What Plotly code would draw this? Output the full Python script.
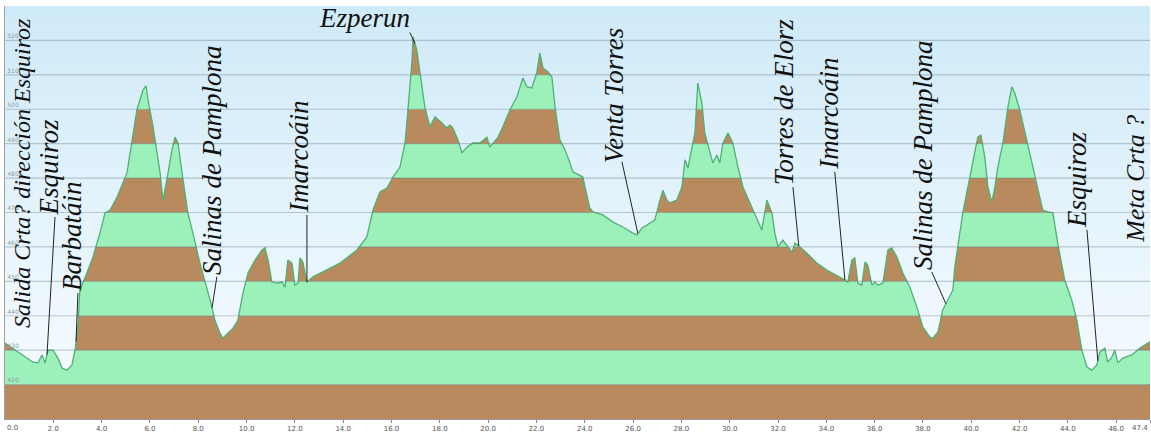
import numpy as np
import plotly.graph_objects as go

# ---------------- data ----------------
dist_km = [0.00, 0.62, 1.16, 1.37, 1.53, 1.66, 1.78, 1.99, 2.19, 2.36, 2.57, 2.77, 2.90, 3.02, 3.10,
           3.39, 3.64, 3.93, 4.14, 4.35, 4.64, 5.05, 5.30, 5.46, 5.71, 5.84, 5.92, 6.13, 6.42, 6.54,
           6.75, 6.91, 7.04, 7.16, 7.33, 7.57, 7.78, 8.07, 8.49, 8.69, 8.90, 9.02, 9.23, 9.44, 9.64,
           9.85, 10.06, 10.35, 10.64, 10.76, 10.89, 11.05, 11.26, 11.47, 11.59, 11.71, 11.88, 12.00,
           12.13, 12.21, 12.33, 12.50, 12.75, 13.16, 13.87, 14.57, 14.98, 15.23, 15.52, 15.81, 16.06,
           16.35, 16.56, 16.68, 16.85, 16.89, 17.05, 17.18, 17.38, 17.59, 17.80, 18.09, 18.29, 18.42,
           18.54, 18.75, 18.92, 19.12, 19.37, 19.66, 19.95, 20.07, 20.20, 20.41, 20.61, 20.90, 21.19,
           21.44, 21.61, 21.81, 22.02, 22.14, 22.27, 22.48, 22.64, 22.77, 22.97, 23.18, 23.39, 23.51,
           23.92, 24.21, 24.34, 24.75, 25.17, 25.58, 25.99, 26.16, 26.37, 26.70, 26.90, 27.11, 27.24,
           27.40, 27.52, 27.81, 28.02, 28.15, 28.27, 28.44, 28.56, 28.68, 28.85, 28.97, 29.18, 29.30,
           29.47, 29.59, 29.72, 29.93, 30.13, 30.34, 30.55, 30.92, 31.13, 31.33, 31.54, 31.75, 31.87,
           32.00, 32.20, 32.37, 32.58, 32.70, 32.91, 33.20, 33.61, 34.02, 34.44, 34.77, 34.89, 35.06,
           35.18, 35.31, 35.47, 35.60, 35.72, 35.89, 36.01, 36.13, 36.34, 36.55, 36.71, 36.92, 37.17,
           37.46, 37.75, 38.00, 38.29, 38.41, 38.62, 38.82, 39.03, 39.24, 39.32, 39.45, 39.65, 39.86,
           40.07, 40.27, 40.40, 40.56, 40.69, 40.85, 40.98, 41.10, 41.31, 41.52, 41.68, 41.80, 42.01,
           42.30, 42.63, 42.96, 43.17, 43.38, 43.58, 43.87, 44.16, 44.37, 44.58, 44.79, 44.99, 45.20,
           45.32, 45.53, 45.65, 45.82, 45.94, 46.07, 46.27, 46.65, 46.98, 47.40]
elev_m = [432.1, 429.2, 426.5, 426.3, 428.6, 426.3, 430.0, 430.0, 427.7, 424.8, 424.2, 425.7, 430.0, 437.3, 447.5,
          452.4, 457.1, 464.0, 469.9, 470.7, 474.5, 481.5, 493.1, 499.8, 505.6, 506.8, 502.7, 494.9, 481.5, 473.6,
          481.5, 488.2, 491.9, 490.2, 481.5, 469.9, 464.0, 455.3, 444.6, 438.7, 435.0, 433.5, 435.0, 436.4, 438.7,
          446.6, 452.4, 456.2, 459.1, 459.7, 456.2, 449.8, 449.5, 449.8, 448.3, 456.2, 455.3, 448.9,
          449.5, 456.8, 455.6, 449.8, 451.3, 452.7, 455.3, 459.1, 462.9, 470.7, 476.0, 477.1, 480.3,
          483.2, 490.2, 499.8, 514.3, 521.0, 517.2, 510.6, 500.7, 494.9, 497.8, 496.0, 494.6, 495.4,
          494.6, 491.1, 487.3, 489.0, 490.2, 490.2, 491.9, 489.0, 490.2, 491.9, 494.9, 499.8, 503.6,
          509.1, 506.5, 506.2, 510.8, 516.4, 512.0, 510.8, 509.4, 500.7, 491.1, 488.2, 484.4, 481.8,
          480.3, 471.3, 470.2, 469.3, 467.2, 465.8, 464.0, 463.5, 465.5, 467.0, 467.8, 473.6, 476.5,
          473.6, 472.8, 473.6, 477.4, 485.3, 482.9, 489.0, 493.1, 507.6, 501.8, 493.1, 487.3, 484.4,
          486.7, 484.4, 490.2, 493.1, 490.2, 483.2, 477.4, 471.6, 467.8, 464.9, 473.6, 469.9, 464.0,
          460.0, 462.0, 460.5, 458.5, 461.1, 460.0, 458.2, 455.3, 453.3, 451.8, 450.4, 449.8, 456.2,
          456.8, 449.5, 448.9, 455.6, 454.7, 448.9, 449.8, 448.9, 449.5, 459.1, 459.7, 457.1, 452.4,
          448.3, 442.5, 436.7, 433.8, 433.5, 435.3, 441.7, 444.6, 447.5, 454.2, 460.0, 469.9, 477.4,
          485.3, 491.9, 492.5, 486.1, 477.4, 473.1, 477.4, 483.2, 490.2, 500.7, 506.5, 504.7, 499.8,
          491.1, 480.3, 470.7, 470.2, 469.9, 461.1, 450.4, 444.6, 438.7, 430.0, 425.1, 424.2, 425.7,
          429.4, 430.6, 426.5, 428.0, 430.0, 426.3, 427.7, 428.6, 430.6, 432.4]

band_edges = [410, 420, 430, 440, 450, 460, 470, 480, 490, 500, 510, 520, 530]
y_ticks = [420, 430, 440, 450, 460, 470, 480, 490, 500, 510, 520]
x_ticks = [0, 2, 4, 6, 8, 10, 12, 14, 16, 18, 20, 22, 24, 26, 28, 30, 32, 34, 36, 38, 40, 42, 44, 46, 47.4]
x_tick_labels = ["0.0", "2.0", "4.0", "6.0", "8.0", "10.0", "12.0", "14.0", "16.0", "18.0", "20.0",
                 "22.0", "24.0", "26.0", "28.0", "30.0", "32.0", "34.0", "36.0", "38.0", "40.0",
                 "42.0", "44.0", "46.0", "47.4"]

# place labels: text, text x (km), text bottom (m), leader start (km, m), leader target km
label_text = ["Salida Crta? dirección Esquiroz", "Esquiroz", "Barbatáin", "Salinas de Pamplona",
              "Imarcoáin", "Venta Torres", "Torres de Elorz", "Imarcoáin", "Salinas de Pamplona",
              "Esquiroz", "Meta Crta ?"]
label_size = [24, 27, 27, 27, 27, 27, 27, 27, 27, 27, 26]
label_x = [0.70, 1.86, 2.77, 8.57, 12.17, 25.21, 32.24, 34.11, 38.00, 44.37, 46.82]
label_y = [435.8, 468.7, 446.6, 451.3, 469.3, 483.9, 477.4, 481.8, 452.7, 465.0, 460.6]
lead_x0 = [None, 2.07, 3.02, 8.77, 12.50, 25.54, 32.62, 34.35, 38.37, 44.79, None]
lead_y0 = [None, 468.7, 446.6, 451.3, 469.3, 484.7, 477.4, 481.8, 452.7, 465.0, None]
lead_target = [None, 1.74, 2.94, 8.57, 12.50, 26.20, 32.86, 34.77, 38.95, 45.24, None]

peak_text = "Ezperun"
peak_x, peak_y = 16.85, 526.5
peak_lead = (16.76, 522.3, 16.97)

# ---------------- styles ----------------
BROWN = "#b88a5e"
GREEN = "#9cf0ba"
LINE = "#4fb274"
TICK_FONT = dict(family="DejaVu Sans", size=7, color="#555555")

def txt_font(size):
    return dict(family="Liberation Serif", size=size, color="#111111", style="italic")

fig = go.Figure()

x0, x1 = dist_km[0], dist_km[-1]
ymin, ymax = band_edges[0], band_edges[-1]

shapes = []
for i in range(len(band_edges) - 1):
    shapes.append(dict(type="rect", xref="x", yref="y", x0=x0, x1=x1,
                       y0=band_edges[i], y1=band_edges[i + 1],
                       fillcolor=BROWN if i % 2 == 0 else GREEN,
                       line=dict(width=0), layer="below"))

# sky mask above the profile
sky_x = list(dist_km) + [x1, x0]
sky_y = list(elev_m) + [ymax, ymax]
fig.add_trace(go.Scatter(x=sky_x, y=sky_y, mode="none", fill="toself",
                         fillcolor="#e4f3fb",
                         fillgradient=dict(type="vertical",
                                           colorscale=[[0, "#f6fbff"], [1, "#cfeaf8"]],
                                           start=420, stop=530),
                         hoverinfo="skip", showlegend=False))

# profile line
fig.add_trace(go.Scatter(x=dist_km, y=elev_m, mode="lines",
                         line=dict(color=LINE, width=1.3), showlegend=False, hoverinfo="skip"))

# grid lines on top
for yv in y_ticks:
    shapes.append(dict(type="line", xref="x", yref="y", x0=x0, x1=x1, y0=yv, y1=yv,
                       line=dict(color="rgba(80,105,115,0.33)", width=1.2), layer="above"))

annotations = []
for t, sz, lx, ly, sx, sy, tk in zip(label_text, label_size, label_x, label_y,
                                     lead_x0, lead_y0, lead_target):
    annotations.append(dict(x=lx, y=ly, xref="x", yref="y", text=t, showarrow=False,
                            textangle=-90, xanchor="center", yanchor="bottom",
                            font=txt_font(sz)))
    if tk is not None:
        ty = float(np.interp(tk, dist_km, elev_m))
        shapes.append(dict(type="line", xref="x", yref="y", x0=sx, y0=sy, x1=tk, y1=ty,
                           line=dict(color="#222222", width=1), layer="above"))

annotations.append(dict(x=peak_x, y=peak_y, xref="x", yref="y", text=peak_text, showarrow=False,
                        xanchor="right", yanchor="middle", font=txt_font(27)))
pk_ty = float(np.interp(peak_lead[2], dist_km, elev_m))
shapes.append(dict(type="line", xref="x", yref="y", x0=peak_lead[0], y0=peak_lead[1],
                   x1=peak_lead[2], y1=pk_ty, line=dict(color="#222222", width=1), layer="above"))

# end tick labels placed inside the figure edges
axis_text = list(x_tick_labels)
axis_text[0] = ""
axis_text[-1] = ""
annotations.append(dict(x=x_ticks[0], y=0, xref="x", yref="paper", text=x_tick_labels[0],
                        showarrow=False, xanchor="left", yanchor="top", yshift=-3, font=TICK_FONT))
annotations.append(dict(x=x_ticks[-1], y=0, xref="x", yref="paper", text=x_tick_labels[-1],
                        showarrow=False, xanchor="right", yanchor="top", yshift=-3, font=TICK_FONT))

fig.update_layout(
    width=1151, height=433,
    margin=dict(l=5, r=1, t=6, b=14),
    paper_bgcolor="white", plot_bgcolor="#e4f3fb",
    shapes=shapes, annotations=annotations,
    showlegend=False, hovermode=False,
    xaxis=dict(range=[x0, x1], tickvals=x_ticks, ticktext=axis_text,
               ticks="outside", ticklen=3, tickcolor="#888888",
               automargin=False, tickfont=TICK_FONT,
               showgrid=False, zeroline=False, showline=True, linecolor="#9a9a9a"),
    yaxis=dict(range=[ymin, ymax], tickvals=y_ticks, ticks="", automargin=False,
               ticklabelposition="inside top",
               tickfont=dict(family="DejaVu Sans", size=6, color="#8d9aa2"),
               showgrid=False, zeroline=False, showline=True, linecolor="#a0a0a0"),
)

fig.write_html("out.html", config={"displayModeBar": False, "staticPlot": True},
               post_script="document.body.style.margin='0px';document.body.style.overflow='hidden';")
